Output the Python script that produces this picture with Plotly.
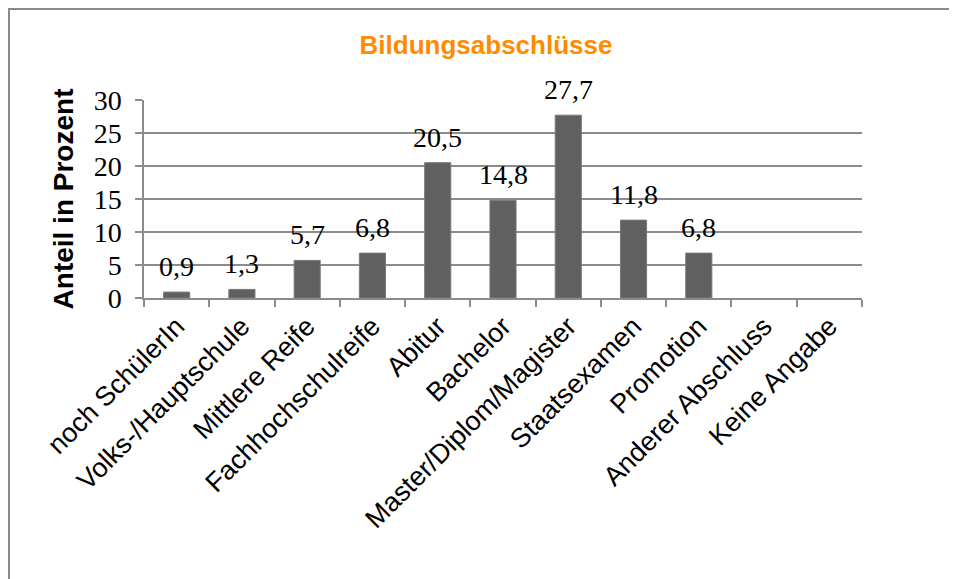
import plotly.graph_objects as go

categories = ["noch SchülerIn", "Volks-/Hauptschule", "Mittlere Reife", "Fachhochschulreife",
              "Abitur", "Bachelor", "Master/Diplom/Magister", "Staatsexamen", "Promotion",
              "Anderer Abschluss", "Keine Angabe"]
values = [0.9, 1.3, 5.7, 6.8, 20.5, 14.8, 27.7, 11.8, 6.8, None, None]
y_ticks = [0, 5, 10, 15, 20, 25, 30]
title_text = "Bildungsabschlüsse"
y_title = "Anteil in Prozent"

# page has an 8px body offset; figure sized to fill the rest of the window
W, H = 949, 571
L, T = 136, 92
pw, ph = 718, 198
R, B = W - L - pw, H - T - ph

fig = go.Figure()
fig.add_trace(go.Bar(
    x=categories, y=values,
    marker=dict(color="#606060", line=dict(color="#7a7a7a", width=1)),
    hoverinfo="skip",
))

for c, v in zip(categories, values):
    if v is None:
        continue
    fig.add_annotation(
        x=c, y=v, text=f"{v:.1f}".replace(".", ","), showarrow=False,
        yanchor="bottom", yshift=8,
        font=dict(family="Liberation Serif", size=28, color="#000000"),
    )

# outer frame
fig.add_shape(type="rect", xref="paper", yref="paper",
              x0=(1 - L) / pw, x1=(W + 20 - L) / pw,
              y0=(T + ph - 1) / ph, y1=-(B + 20) / ph,
              line=dict(color="#8a8a8a", width=2), layer="below")

fig.update_layout(
    width=W, height=H,
    margin=dict(l=L, r=R, t=T, b=B, autoexpand=False),
    paper_bgcolor="white", plot_bgcolor="white",
    bargap=0.6, showlegend=False,
    title=dict(text=f"<b>{title_text}</b>", x=478 / W, xanchor="center",
               y=1 - 37 / H, yanchor="middle", yref="container",
               font=dict(family="Liberation Sans", size=26, color="#FF8C00")),
    xaxis=dict(
        tickangle=-45, tickson="boundaries", ticks="outside", ticklen=7,
        tickcolor="#8c8c8c", tickwidth=1.5,
        showline=True, linecolor="#8c8c8c", linewidth=1.5,
        showgrid=False, automargin=False,
        tickfont=dict(family="Liberation Sans", size=27, color="#000000"),
    ),
    yaxis=dict(
        range=[0, 30], tickvals=y_ticks, ticks="outside", ticklen=7,
        tickcolor="#8c8c8c", tickwidth=1.5,
        showline=True, linecolor="#8c8c8c", linewidth=1.5,
        showgrid=True, gridcolor="#8c8c8c", gridwidth=1.5,
        zeroline=False, automargin=False, ticklabelstandoff=8,
        tickfont=dict(family="Liberation Serif", size=28, color="#000000"),
        title=dict(text=f"<b>{y_title}</b>", standoff=12,
                   font=dict(family="Liberation Sans", size=28, color="#000000")),
    ),
)

fig.write_html("out.html")
